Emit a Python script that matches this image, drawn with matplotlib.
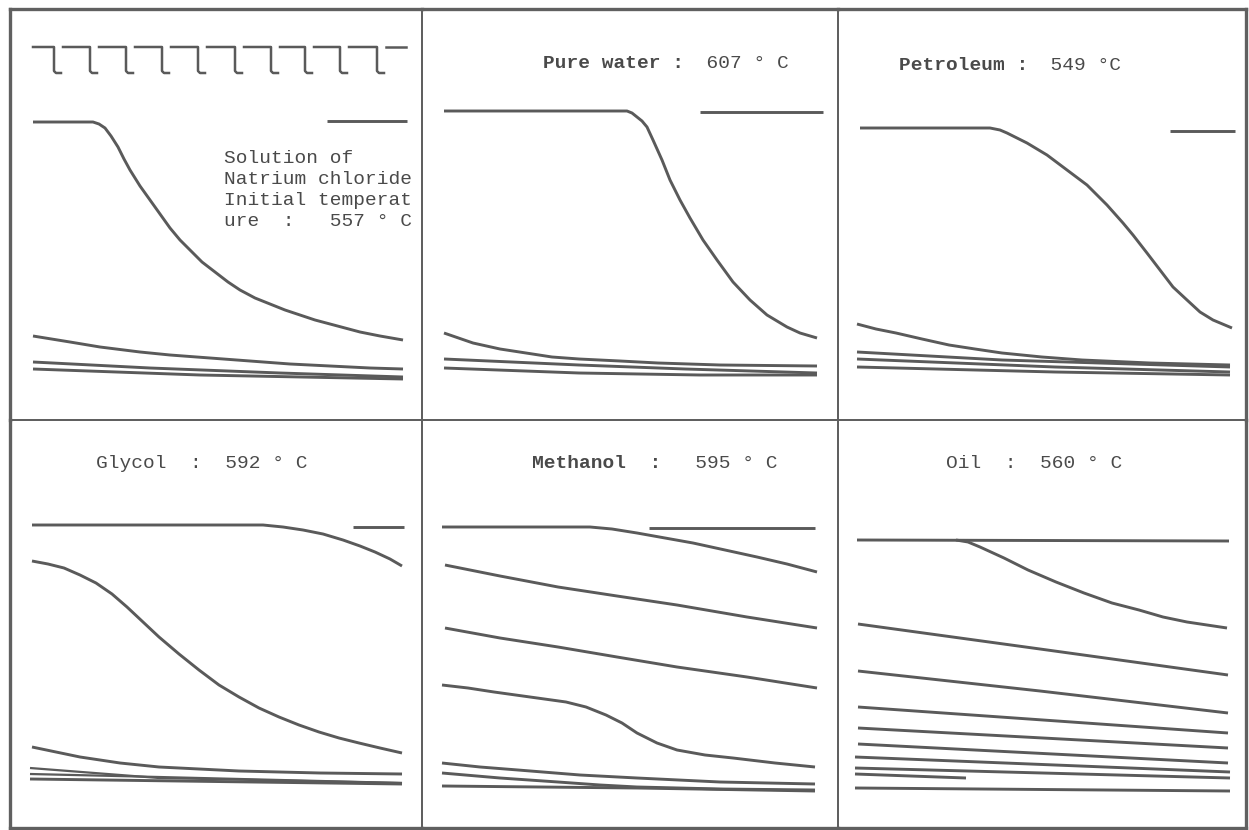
"""Cooling curves of a quenched probe in six media (scan redraw).

Each panel is drawn in the pixel units of the recorder sheet:
x runs left to right, y runs top to bottom.
"""
import matplotlib
matplotlib.use("Agg")
import matplotlib.pyplot as plt

INK = "#5a5a5a"
FRAME = "#606060"
TXT = "#4a4a4a"
MONO = ["Liberation Mono", "DejaVu Sans Mono"]
FS = 14

# panel edges on the sheet (px)
COLS = [(10, 422), (422, 838), (838, 1246)]
ROWS = [(9, 420), (420, 828)]

# ---------------------------------------------------------------------------
# Panel 1 : NaCl solution
# ---------------------------------------------------------------------------
nacl_main_x = [33, 93, 99, 105, 111, 118, 124, 130, 140, 150, 160, 170, 180, 190,
               202, 215, 228, 240, 255, 270, 285, 300, 315, 330, 345, 360, 380, 403]
nacl_main_y = [122, 122, 124, 128, 136, 147, 159, 170, 186, 200, 214, 228, 240, 250,
               262, 272, 282, 290, 298, 304, 310, 315, 320, 324, 328, 332, 336, 340]
nacl_c2_x = [33, 70, 100, 140, 170, 210, 250, 290, 330, 370, 403]
nacl_c2_y = [336, 342, 347, 352, 355, 358, 361, 364, 366, 368, 369]
nacl_c3_x = [33, 150, 280, 403]
nacl_c3_y = [362, 368, 373, 377]
nacl_c4_x = [33, 200, 403]
nacl_c4_y = [369, 375, 379]
nacl_ref_x = [327, 407]
nacl_ref_y = [121, 121]
nacl_label = ["Solution of", "Natrium chloride", "Initial temperat", "ure  :   557 ° C"]

# timing marks at the top of panel 1
tick_x = [54, 90, 126, 162, 198, 235, 271, 305, 340, 377]
tick_start, tick_end = 33, 406
tick_top, tick_bottom = 47, 73

# ---------------------------------------------------------------------------
# Panel 2 : pure water
# ---------------------------------------------------------------------------
water_main_x = [444, 627, 632, 637, 642, 647, 653, 662, 670, 680, 690, 703, 717,
                733, 750, 767, 787, 800, 817]
water_main_y = [111, 111, 113, 117, 121, 127, 140, 160, 180, 200, 218, 240, 260,
                282, 300, 315, 327, 333, 338]
water_c2_x = [444, 473, 500, 526, 552, 579, 620, 658, 720, 817]
water_c2_y = [333, 343, 349, 353, 357, 359, 361, 363, 365, 366]
water_c3_x = [444, 579, 685, 817]
water_c3_y = [359, 365, 369, 373]
water_c4_x = [444, 579, 700, 817]
water_c4_y = [368, 373, 375, 375]
water_ref_x = [700, 823]
water_ref_y = [112, 112]

# ---------------------------------------------------------------------------
# Panel 3 : petroleum
# ---------------------------------------------------------------------------
petro_main_x = [860, 990, 1000, 1007, 1027, 1047, 1067, 1087, 1107, 1123, 1133, 1147,
                1160, 1173, 1187, 1200, 1213, 1232]
petro_main_y = [128, 128, 130, 133, 143, 155, 170, 185, 205, 223, 235, 253,
                270, 287, 300, 312, 320, 328]
petro_c2_x = [857, 876, 896, 922, 949, 975, 1002, 1042, 1082, 1150, 1230]
petro_c2_y = [324, 329, 333, 339, 345, 349, 353, 357, 360, 363, 365]
petro_c3_x = [857, 1002, 1230]
petro_c3_y = [352, 360, 367]
petro_c4_x = [857, 1055, 1230]
petro_c4_y = [359, 367, 372]
petro_c5_x = [857, 1055, 1230]
petro_c5_y = [367, 372, 375]
petro_ref_x = [1170, 1235]
petro_ref_y = [131, 131]

# ---------------------------------------------------------------------------
# Panel 4 : glycol
# ---------------------------------------------------------------------------
glyc_top_x = [32, 263, 283, 303, 323, 343, 360, 375, 390, 402]
glyc_top_y = [525, 525, 527, 530, 534, 540, 546, 552, 559, 566]
glyc_s_x = [32, 48, 64, 80, 96, 112, 127, 143, 159, 179, 199, 219, 239, 259, 279,
            299, 319, 339, 359, 380, 402]
glyc_s_y = [561, 564, 568, 575, 583, 594, 607, 622, 637, 654, 670, 685, 697, 708, 717,
            725, 732, 738, 743, 748, 753]
glyc_c3_x = [32, 56, 80, 120, 159, 199, 239, 320, 402]
glyc_c3_y = [747, 752, 757, 763, 767, 769, 771, 773, 774]
glyc_c4_x = [30, 159, 402]
glyc_c4_y = [768, 778, 783]
glyc_c5_x = [30, 159, 402]
glyc_c5_y = [774, 777, 783]
glyc_c6_x = [30, 402]
glyc_c6_y = [779, 784]
glyc_ref_x = [353, 404]
glyc_ref_y = [527, 527]

# ---------------------------------------------------------------------------
# Panel 5 : methanol
# ---------------------------------------------------------------------------
meth_top_x = [442, 590, 612, 637, 665, 693, 725, 757, 787, 817]
meth_top_y = [527, 527, 529, 533, 538, 543, 550, 557, 564, 572]
meth_c2_x = [445, 500, 558, 617, 677, 747, 817]
meth_c2_y = [565, 576, 587, 596, 605, 617, 628]
meth_c3_x = [445, 500, 558, 617, 677, 747, 817]
meth_c3_y = [628, 638, 647, 657, 667, 677, 688]
meth_s_x = [442, 468, 494, 530, 566, 586, 606, 622, 637, 657, 677, 705, 733, 775, 815]
meth_s_y = [685, 688, 692, 697, 702, 707, 715, 723, 733, 743, 750, 755, 758, 763, 767]
meth_c5_x = [442, 480, 518, 580, 637, 720, 815]
meth_c5_y = [763, 767, 770, 775, 778, 782, 784]
meth_c6_x = [442, 500, 558, 600, 637, 720, 815]
meth_c6_y = [773, 778, 782, 785, 787, 789, 790]
meth_c7_x = [442, 637, 815]
meth_c7_y = [786, 788, 791]
meth_ref_x = [649, 815]
meth_ref_y = [528, 528]

# ---------------------------------------------------------------------------
# Panel 6 : oil
# ---------------------------------------------------------------------------
oil_top_x = [857, 1229]
oil_top_y = [540, 541]
oil_branch_x = [956, 968, 980, 1004, 1028, 1056, 1084, 1112, 1139, 1163, 1187, 1227]
oil_branch_y = [540, 542, 547, 558, 570, 582, 593, 603, 610, 617, 622, 628]
oil_lines = [
    ([858, 1040, 1228], [624, 649, 675]),
    ([858, 1040, 1228], [671, 691, 713]),
    ([858, 1228], [707, 733]),
    ([858, 1228], [728, 748]),
    ([858, 1228], [744, 763]),
    ([855, 1230], [757, 772]),
    ([855, 1230], [768, 778]),
    ([855, 966], [774, 778]),
    ([855, 1230], [788, 791]),
]

# titles: (bold part, plain part, x, baseline y)
titles = [
    None,
    ("Pure water :", "  607 ° C", 543, 68),
    ("Petroleum :", "  549 °C", 899, 70),
    ("", "Glycol  :  592 ° C", 96, 468),
    ("Methanol  :", "   595 ° C", 532, 468),
    ("", "Oil  :  560 ° C", 946, 468),
]


def make_panel(fig, col, row):
    l, r = COLS[col]
    t, b = ROWS[row]
    W, H = 1249, 830
    ax = fig.add_axes([l / W, 1 - b / H, (r - l) / W, (b - t) / H])
    ax.set_xlim(l, r)
    ax.set_ylim(b, t)
    ax.set_xticks([])
    ax.set_yticks([])
    ax.set_facecolor("none")
    for name, sp in ax.spines.items():
        sp.set_color(FRAME)
        sp.set_linewidth(1.4)
    if col == 0:
        ax.spines["left"].set_linewidth(2.4)
    if col == 2:
        ax.spines["right"].set_linewidth(2.4)
    if row == 0:
        ax.spines["top"].set_linewidth(2.4)
    if row == 1:
        ax.spines["bottom"].set_linewidth(2.4)
    return ax


def curve(ax, x, y, lw=2.1):
    ax.plot(x, y, color=INK, lw=lw, solid_capstyle="butt", solid_joinstyle="round")


def title(ax, spec):
    if spec is None:
        return
    bold, plain, x0, y0 = spec
    adv = 0.6 * FS * 100 / 72  # monospace advance in px
    if bold:
        ax.text(x0, y0, bold, family=MONO, fontsize=FS, fontweight="bold",
                color=TXT, va="baseline", ha="left")
    ax.text(x0 + len(bold) * adv, y0, plain, family=MONO, fontsize=FS,
            color=TXT, va="baseline", ha="left")


fig = plt.figure(figsize=(12.49, 8.30), dpi=100)
fig.patch.set_facecolor("white")

axes = [make_panel(fig, c, r) for r in range(2) for c in range(3)]

# panel 1
ax = axes[0]
prev = tick_start
for tx in tick_x:
    ax.plot([prev, tx, tx, tx + 2, tx + 7], [tick_top, tick_top, tick_bottom - 2,
            tick_bottom, tick_bottom], color=INK, lw=1.8, solid_joinstyle="round")
    prev = tx + 9
ax.plot([prev, tick_end], [tick_top, tick_top], color=INK, lw=1.8)
curve(ax, nacl_ref_x, nacl_ref_y)
curve(ax, nacl_main_x, nacl_main_y)
curve(ax, nacl_c2_x, nacl_c2_y)
curve(ax, nacl_c3_x, nacl_c3_y)
curve(ax, nacl_c4_x, nacl_c4_y)
for i, line in enumerate(nacl_label):
    ax.text(224, 163 + 21 * i, line, family=MONO, fontsize=FS, color=TXT,
            va="baseline", ha="left")

# panel 2
ax = axes[1]
curve(ax, water_ref_x, water_ref_y)
curve(ax, water_main_x, water_main_y)
curve(ax, water_c2_x, water_c2_y)
curve(ax, water_c3_x, water_c3_y)
curve(ax, water_c4_x, water_c4_y)

# panel 3
ax = axes[2]
curve(ax, petro_ref_x, petro_ref_y)
curve(ax, petro_main_x, petro_main_y)
curve(ax, petro_c2_x, petro_c2_y)
curve(ax, petro_c3_x, petro_c3_y)
curve(ax, petro_c4_x, petro_c4_y)
curve(ax, petro_c5_x, petro_c5_y)

# panel 4
ax = axes[3]
curve(ax, glyc_ref_x, glyc_ref_y)
curve(ax, glyc_top_x, glyc_top_y)
curve(ax, glyc_s_x, glyc_s_y)
curve(ax, glyc_c3_x, glyc_c3_y)
curve(ax, glyc_c4_x, glyc_c4_y, lw=1.6)
curve(ax, glyc_c5_x, glyc_c5_y, lw=1.6)
curve(ax, glyc_c6_x, glyc_c6_y)

# panel 5
ax = axes[4]
curve(ax, meth_ref_x, meth_ref_y)
curve(ax, meth_top_x, meth_top_y)
curve(ax, meth_c2_x, meth_c2_y)
curve(ax, meth_c3_x, meth_c3_y)
curve(ax, meth_s_x, meth_s_y)
curve(ax, meth_c5_x, meth_c5_y)
curve(ax, meth_c6_x, meth_c6_y)
curve(ax, meth_c7_x, meth_c7_y)

# panel 6
ax = axes[5]
curve(ax, oil_top_x, oil_top_y)
curve(ax, oil_branch_x, oil_branch_y)
for xs, ys in oil_lines:
    curve(ax, xs, ys)

for ax, spec in zip(axes, titles):
    title(ax, spec)

fig.savefig("out.png", dpi=100, facecolor="white")
